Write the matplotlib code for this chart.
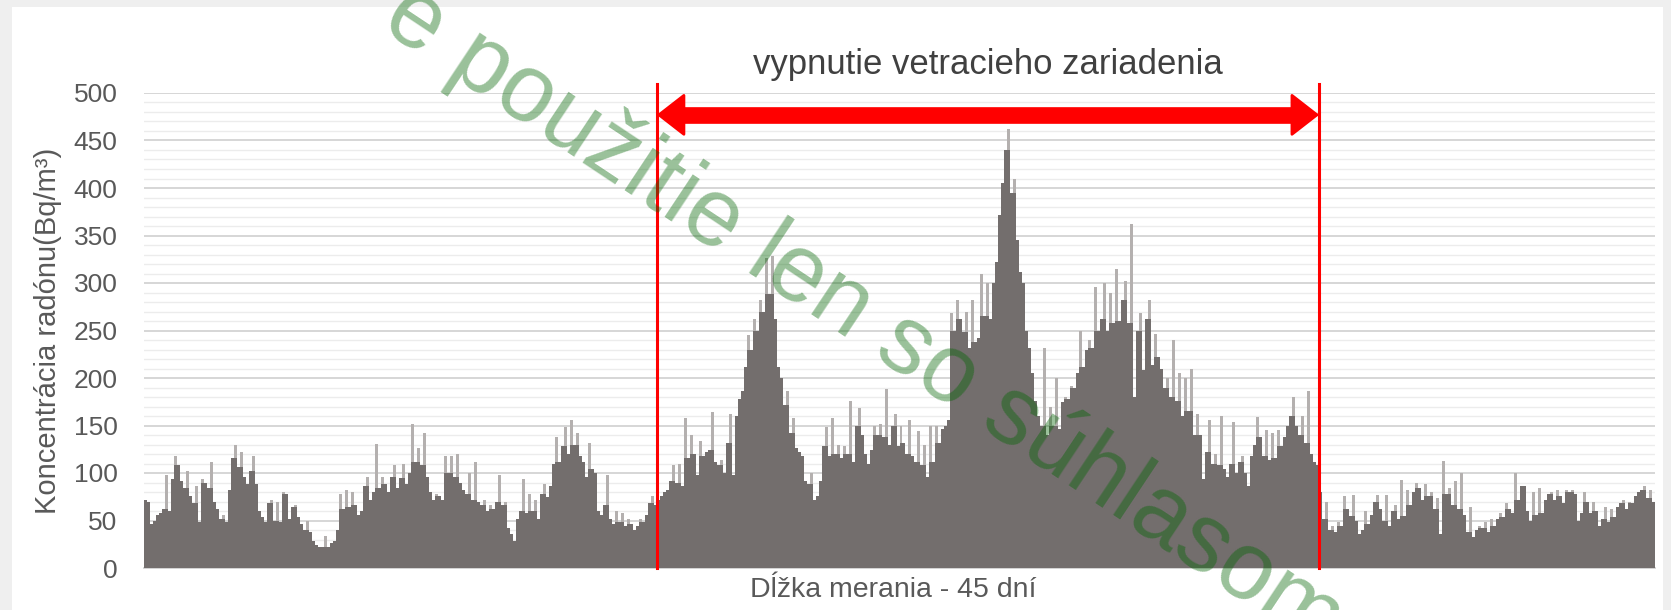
import numpy as np
import matplotlib
matplotlib.use('Agg')
import matplotlib.pyplot as plt
from matplotlib.patches import Rectangle
from matplotlib.ticker import MultipleLocator

plt.rcParams['font.family'] = ['Liberation Sans', 'DejaVu Sans']

# Radon concentration (Bq/m3), in chronological order
radon_before = [
    72, 70, 46, 50, 56, 58, 62, 98, 60, 94,
    118, 108, 92, 84, 102, 76, 68, 86, 48, 94,
    90, 84, 112, 70, 62, 52, 56, 48, 82, 116,
    130, 106, 122, 96, 88, 102, 118, 88, 60, 54,
    48, 68, 72, 50, 70, 48, 80, 78, 52, 64,
    66, 54, 46, 40, 50, 38, 28, 24, 22, 22,
    34, 22, 26, 28, 40, 78, 62, 82, 64, 80,
    66, 56, 60, 86, 96, 72, 80, 131, 84, 96,
    88, 80, 96, 108, 84, 95, 110, 88, 100, 152,
    112, 126, 108, 142, 96, 80, 72, 78, 76, 72,
    118, 100, 118, 96, 120, 90, 82, 78, 100, 72,
    112, 70, 66, 72, 60, 66, 62, 70, 98, 66,
    70, 42, 36, 28, 52, 60, 94, 58, 78, 60,
    72, 52, 78, 88, 75, 86, 110, 138, 112, 128,
    148, 120, 156, 130, 142, 118, 112, 96, 132, 104,
    100, 60, 56, 66, 98, 52, 46, 60, 48, 58,
    44, 52, 46, 40, 44, 52, 48, 56, 68, 76,
    66,
]

radon_shutdown = [
    72, 76, 80, 82, 92, 108, 90, 110, 86,
    158, 116, 140, 120, 98, 134, 118, 122, 124, 164,
    112, 108, 114, 100, 132, 162, 98, 160, 178, 186,
    212, 245, 230, 262, 250, 282, 270, 326, 288, 328,
    262, 212, 200, 172, 186, 142, 158, 126, 122, 118,
    92, 88, 100, 72, 76, 92, 128, 148, 118, 158,
    120, 130, 116, 128, 120, 176, 112, 150, 168, 140,
    120, 110, 124, 150, 140, 152, 138, 188, 130, 150,
    162, 128, 150, 132, 120, 156, 118, 112, 144, 108,
    130, 96, 150, 112, 150, 132, 146, 150, 156, 268,
    250, 282, 262, 248, 270, 232, 282, 238, 242, 310,
    265, 300, 262, 300, 322, 372, 405, 440, 462, 395,
    410, 345, 312, 300, 250, 232, 205, 176, 160, 150,
    232, 140, 170, 150, 200, 146, 175, 180, 178, 192,
    190, 205, 250, 212, 230, 240, 232, 296, 250, 262,
    300, 250, 290, 258, 315, 260, 282, 302, 258, 362,
    180, 250, 268, 208, 262, 282, 214, 246, 222, 210,
    190, 200, 180, 240, 176, 205, 160, 200, 165, 210,
    140, 162, 140, 94, 122, 156, 110, 120, 108, 160,
    104, 96, 110, 154, 100, 112, 118, 100, 86, 118,
    130, 159, 138, 118, 145, 114, 142, 116, 145, 128,
    138, 150, 160, 180, 150, 140, 160, 132, 186, 120,
    112, 108,
]

radon_after = [
    80, 52, 70, 40, 44, 38, 48, 44,
    76, 62, 55, 77, 50, 36, 40, 60, 46, 56,
    70, 77, 62, 50, 77, 44, 60, 66, 52, 93,
    55, 82, 66, 80, 90, 84, 72, 88, 76, 80,
    62, 74, 36, 113, 78, 84, 66, 92, 62, 100,
    56, 38, 64, 33, 40, 44, 42, 48, 38, 52,
    44, 52, 58, 54, 68, 62, 58, 100, 72, 86,
    86, 60, 50, 80, 56, 84, 58, 72, 78, 80,
    72, 82, 76, 68, 82, 80, 82, 78, 50, 58,
    80, 70, 58, 70, 60, 44, 52, 64, 48, 62,
    54, 64, 68, 72, 62, 70, 68, 76, 80, 82,
    86, 74, 82, 70,
]

y_ticks = [0, 50, 100, 150, 200, 250, 300, 350, 400, 450, 500]
title_text = 'vypnutie vetracieho zariadenia'
y_label = 'Koncentrácia radónu(Bq/m³)'
x_label = 'Dĺžka merania - 45 dní'
watermark = 'e použitie len so súhlasom'

values = np.array(radon_before + radon_shutdown + radon_after, dtype=float)
n = len(values)
edges = np.arange(n + 1) - 0.5
start_line = len(radon_before) - 0.5
end_line = len(radon_before) + len(radon_shutdown) - 0.5

W, H = 1671, 610
fig = plt.figure(figsize=(W / 100, H / 100), dpi=100)
fig.patch.set_facecolor('#efefef')
fig.add_artist(Rectangle((12 / W, 0), (W - 20) / W, (H - 7) / H,
                         transform=fig.transFigure, facecolor='white',
                         edgecolor='none', zorder=-5))

ax = fig.add_axes([144 / W, 42 / H, 1511 / W, 475 / H])
ax.set_facecolor('none')

# light fringe (full values) and dark body (thin isolated spikes render lighter)
padded = np.pad(values, 1, mode='edge')
median3 = np.median(np.vstack([padded[:-2], padded[1:-1], padded[2:]]), axis=0)
body = np.minimum(values, median3)
ax.stairs(values, edges, fill=True, color='#b4b0af', linewidth=0, zorder=2)
ax.stairs(body, edges, fill=True, color='#736e6d', linewidth=0, zorder=3)

ax.set_xlim(edges[0], edges[-1])
ax.set_ylim(0, 500)
ax.set_yticks(y_ticks)
ax.yaxis.set_minor_locator(MultipleLocator(10))
ax.set_xticks([])
ax.grid(which='major', axis='y', color='#d3d3d3', linewidth=1.3, zorder=0)
ax.grid(which='minor', axis='y', color='#ececec', linewidth=1.0, zorder=0)
ax.set_axisbelow(True)
ax.tick_params(axis='y', which='both', length=0, pad=19, labelsize=19, labelcolor='#595959')
for s in ['top', 'right', 'left']:
    ax.spines[s].set_visible(False)
ax.spines['bottom'].set_color('#d0d0d0')
ax.spines['bottom'].set_linewidth(1.3)

ax.set_ylabel(y_label, fontsize=21, color='#595959')
ax.yaxis.set_label_coords(-0.054, 0.5)
ax.set_xlabel(x_label, fontsize=20.5, color='#595959')
ax.xaxis.set_label_coords(0.496, -0.018)

# shutdown markers
for xl in (start_line, end_line):
    ax.plot([xl, xl], [0, 509], color='#ff0000', linewidth=2.2, clip_on=False, zorder=6)

arrow_y = 477
ax.plot([start_line + 5, end_line - 5], [arrow_y, arrow_y], color='#ff0000',
        linewidth=12, solid_capstyle='butt', clip_on=False, zorder=7)
ax.annotate('', xy=(start_line, arrow_y), xytext=(end_line, arrow_y),
            arrowprops=dict(arrowstyle='<|-|>,head_length=0.45,head_width=0.35',
                            color='#ff0000', lw=2, mutation_scale=40,
                            shrinkA=0, shrinkB=0),
            zorder=8, annotation_clip=False)

ax.text((start_line + end_line) / 2, 530, title_text, ha='center', va='center',
        fontsize=25, color='#404040', clip_on=False)

fig.text(0.517, 0.478, watermark, rotation=-33.6, rotation_mode='anchor',
         ha='center', va='center', fontsize=69, color='#006400', alpha=0.40,
         zorder=20)

fig.savefig('out.png', dpi=100, facecolor=fig.get_facecolor())
